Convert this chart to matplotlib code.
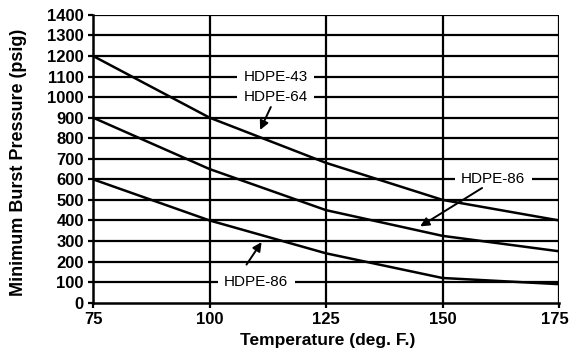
import matplotlib.pyplot as plt
import matplotlib.transforms as mtransforms

temps = [75, 100, 125, 150, 175]
hdpe_43 = [1200, 900, 680, 500, 400]
hdpe_64 = [900, 650, 450, 325, 250]
hdpe_86 = [600, 400, 240, 120, 90]

plt.rcParams['font.family'] = ['Liberation Sans', 'DejaVu Sans']

fig = plt.figure(figsize=(5.71, 3.54), dpi=100)
ax = fig.add_axes([0.163, 0.145, 0.816, 0.813])

ax.set_xlim(75, 175)
ax.set_ylim(0, 1400)
ax.set_xticks([75, 100, 125, 150, 175])
ax.set_yticks(range(0, 1500, 100))

for y in range(100, 1500, 100):
    ax.axhline(y, color='black', lw=1.6, zorder=1)
for x in [100, 125, 150, 175]:
    ax.axvline(x, color='black', lw=1.6, zorder=1)

for s in [hdpe_43, hdpe_64, hdpe_86]:
    ax.plot(temps, s, color='black', lw=1.8, zorder=2)

for sp in ['top', 'right']:
    ax.spines[sp].set_visible(False)
for sp in ['left', 'bottom']:
    ax.spines[sp].set_linewidth(1.8)

ax.tick_params(direction='out', length=3.6, width=1.6, pad=3)
for lab in ax.get_xticklabels() + ax.get_yticklabels():
    lab.set_fontweight('bold')
    lab.set_fontsize(12)

# keep the last x tick label inside the picture
last = ax.get_xticklabels()[-1]
last.set_transform(last.get_transform() +
                   mtransforms.ScaledTranslation(-3 / 72, 0, fig.dpi_scale_trans))

ax.set_xlabel('Temperature (deg. F.)', fontweight='bold', fontsize=12.5, va='center')
ax.xaxis.set_label_coords(0.503, -0.13)
ax.set_ylabel('Minimum Burst Pressure (psig)', fontweight='bold', fontsize=13, va='center')
ax.yaxis.set_label_coords(-0.161, 0.486)

box = dict(facecolor='white', edgecolor='none', pad=4.5)
tkw = dict(fontsize=11, ha='center', va='center', bbox=box, zorder=5)
ax.text(114.2, 1100, 'HDPE-43', **tkw)
ax.text(114.2, 1000, 'HDPE-64', **tkw)
ax.text(160.9, 600, 'HDPE-86', **tkw)
ax.text(110.0, 100, 'HDPE-86', **tkw)

akw = dict(arrowstyle='-|>', color='black', lw=1.4, mutation_scale=13)
ax.annotate('', xy=(110.6, 828), xytext=(113.4, 964), arrowprops=akw, zorder=6)
ax.annotate('', xy=(144.7, 364), xytext=(159, 565), arrowprops=akw, zorder=6)
ax.annotate('', xy=(111.5, 306), xytext=(107.6, 174), arrowprops=akw, zorder=6)

fig.savefig('out.png', dpi=100)
